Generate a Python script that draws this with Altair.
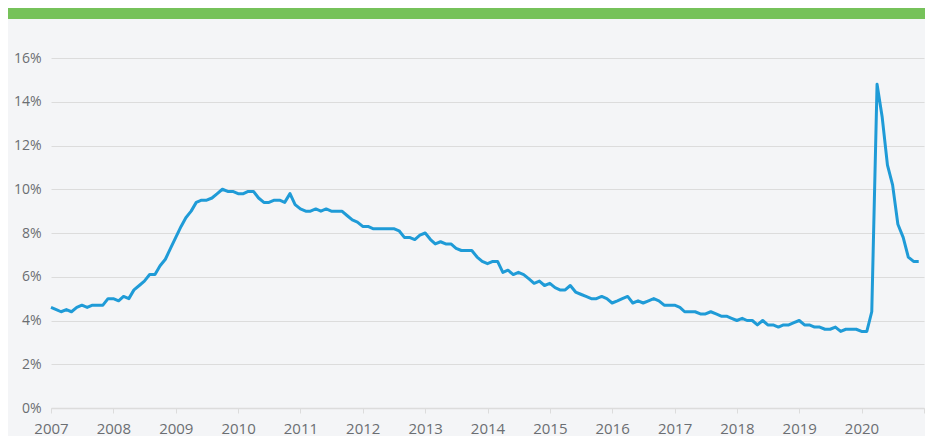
import altair as alt
import pandas as pd

years = list(range(2007, 2021))
rates = [
    [4.6, 4.5, 4.4, 4.5, 4.4, 4.6, 4.7, 4.6, 4.7, 4.7, 4.7, 5.0],
    [5.0, 4.9, 5.1, 5.0, 5.4, 5.6, 5.8, 6.1, 6.1, 6.5, 6.8, 7.3],
    [7.8, 8.3, 8.7, 9.0, 9.4, 9.5, 9.5, 9.6, 9.8, 10.0, 9.9, 9.9],
    [9.8, 9.8, 9.9, 9.9, 9.6, 9.4, 9.4, 9.5, 9.5, 9.4, 9.8, 9.3],
    [9.1, 9.0, 9.0, 9.1, 9.0, 9.1, 9.0, 9.0, 9.0, 8.8, 8.6, 8.5],
    [8.3, 8.3, 8.2, 8.2, 8.2, 8.2, 8.2, 8.1, 7.8, 7.8, 7.7, 7.9],
    [8.0, 7.7, 7.5, 7.6, 7.5, 7.5, 7.3, 7.2, 7.2, 7.2, 6.9, 6.7],
    [6.6, 6.7, 6.7, 6.2, 6.3, 6.1, 6.2, 6.1, 5.9, 5.7, 5.8, 5.6],
    [5.7, 5.5, 5.4, 5.4, 5.6, 5.3, 5.2, 5.1, 5.0, 5.0, 5.1, 5.0],
    [4.8, 4.9, 5.0, 5.1, 4.8, 4.9, 4.8, 4.9, 5.0, 4.9, 4.7, 4.7],
    [4.7, 4.6, 4.4, 4.4, 4.4, 4.3, 4.3, 4.4, 4.3, 4.2, 4.2, 4.1],
    [4.0, 4.1, 4.0, 4.0, 3.8, 4.0, 3.8, 3.8, 3.7, 3.8, 3.8, 3.9],
    [4.0, 3.8, 3.8, 3.7, 3.7, 3.6, 3.6, 3.7, 3.5, 3.6, 3.6, 3.6],
    [3.5, 3.5, 4.4, 14.8, 13.3, 11.1, 10.2, 8.4, 7.8, 6.9, 6.7, 6.7],
]

rows = []
for y, vals in zip(years, rates):
    for m, v in enumerate(vals, start=1):
        rows.append({"date": f"{y}-{m:02d}-01", "rate": v})
df = pd.DataFrame(rows)

FONT = "Open Sans"
LABEL = "#6b6e72"

line = alt.Chart(df).mark_line(color="#1f9bd7", strokeWidth=3, strokeJoin="round").encode(
    x=alt.X(
        "date:T",
        scale=alt.Scale(domain=["2007-01-01T00:00:00", "2021-01-01T00:00:00"]),
        axis=alt.Axis(
            title=None,
            tickCount={"interval": "year", "step": 1},
            labelExpr="year(datum.value) == 2021 ? '' : timeFormat(datum.value, '%Y')",
            grid=False,
            domainColor="#dcdcdc",
            domainWidth=1.5,
            tickColor="#dcdcdc",
            tickSize=5,
            labelFont=FONT,
            labelFontSize=15,
            labelColor=LABEL,
            labelPadding=8,
            labelFlush=False,
        ),
    ),
    y=alt.Y(
        "rate:Q",
        scale=alt.Scale(domain=[0, 16], nice=False),
        axis=alt.Axis(
            title=None,
            values=[0, 2, 4, 6, 8, 10, 12, 14, 16],
            labelExpr="datum.value + '%'",
            domain=False,
            ticks=False,
            gridColor="#dcdcdc",
            gridWidth=1,
            labelFont=FONT,
            labelFontSize=14,
            labelColor=LABEL,
            labelPadding=10,
        ),
    ),
)

bar = alt.Chart(pd.DataFrame({"a": [0]})).mark_rect(color="#76c25a", clip=False).encode(
    x=alt.value(-43), x2=alt.value(874), y=alt.value(-50), y2=alt.value(-39)
)

chart = alt.layer(bar, line).properties(
    width=873,
    height=350,
    autosize=alt.AutoSizeParams(type="none"),
    padding={"left": 43, "top": 50, "right": 1, "bottom": 28},
    background="#f4f5f7",
).configure_view(stroke=None)

chart.save("out.html", embed_options={"renderer": "svg", "actions": False})
